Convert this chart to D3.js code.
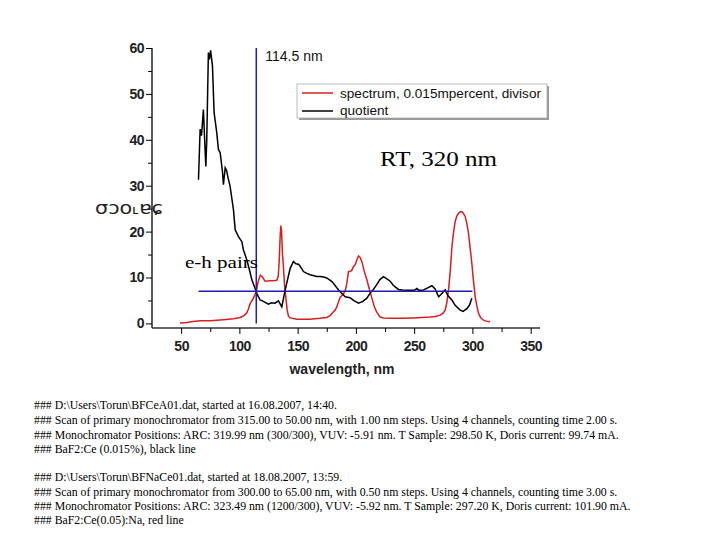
<!DOCTYPE html>
<html><head><meta charset="utf-8">
<script src="https://cdn.jsdelivr.net/npm/d3@7"></script>
<style>body{margin:0;background:#fff}</style>
</head><body>
<script>
// ---- data ----
const quotientWl = [64.9,66.3,67.5,69.1,70.2,71.2,72,73.4,74.3,75.3,76.9,78.3,80.6,82,83.5,85.5,86.3,87.8,89,90.5,92,94.9,96.4,99.2,102.1,103.5,106.4,108.5,110.7,113.5,114.5,115.5,117.8,120.6,124.9,127.5,130.6,133.5,136.4,139.3,143.6,146.4,148.5,150.7,152,155,157.9,160.7,166.4,169.3,172.2,175,179.4,182,185.1,188,190.8,195,198,202.2,206,209.4,212.2,215,218,220.8,223.6,226,229.4,232,236.5,240,245,250,252.3,254,258,262,265.2,268,271,273,276.6,279,282.4,285,289.5,292,295.2,297.5,299.5];
const quotientVal = [31.3,42.3,40.9,46.6,40,34.2,40,59,57.5,59.5,56.1,45.9,41.5,37.9,37.2,33,30.2,33.9,33.3,31.5,29.9,24.8,20.4,18.9,17.8,16,13.8,11.8,9.5,7.6,6.9,6.2,5.1,4.8,4.2,4.5,4.4,4.9,3.6,7.3,12,13.5,13,12.9,12.5,11.3,10.9,10.6,10.2,10.2,10.1,9.9,9.1,8.3,7.3,6.5,5.8,5.6,5,4.4,4.8,5.5,6.6,7.4,8.5,9.6,10.2,9.8,9.2,8.3,7.4,7.3,7.2,7.2,7.6,7.2,7.3,7.8,8.2,7.5,5.8,6.3,7.3,6,5.1,4,2.9,2.6,3.2,4,5.5];
const spectrumWl = [49,55,60,66.3,75,86.3,95,100.6,104,106.4,108,109.2,112.1,114.5,116,117.9,119.5,120.6,122.1,126.4,129.3,132.1,133.3,134.1,135,135.6,136.2,137,137.8,138.7,139.9,141,142.1,143.6,149.3,160,169.3,175,177.9,180,182.2,183.6,185.5,186.5,189.3,191,192.2,193.6,195.1,196.5,198,199.4,201,202.2,203.5,205.1,207,209.4,211.5,213.7,216,218,220.8,223.6,230,240,249.4,256,263.7,268,272.3,275,276.6,278,279.5,281,282.4,283.8,285.2,286.6,288.1,289.5,291,292.4,293.8,295.2,296.6,298,299.5,301,302.4,303.8,305.2,307,309.5,312,315.2];
const spectrumVal = [0.1,0.2,0.4,0.6,0.6,0.8,1,1.3,1.7,2.3,3.3,4.3,5.5,7,9,10.5,10.2,9.8,9.2,9.3,9.3,9.4,10.2,13.2,19,21.3,20,15,12.4,8.5,5.5,3,1.6,1.2,0.9,0.9,1.1,1.3,1.7,2.3,2.9,3.6,5,5.7,6.4,7.3,8.7,11.3,11.3,11.6,12.4,12.8,14,14.7,14.4,13.5,11.5,9.5,7.5,5.5,3.5,2.4,1.4,1.2,1.1,1.1,1.2,1.3,1.4,1.5,1.8,2.3,2.9,4.5,7.3,11.5,16.7,19.8,22.2,23.4,24,24.3,24.3,23.9,23.3,21.8,19.7,16.5,13.1,9,5.8,3.8,2.2,1.3,0.7,0.5,0.35];
const xTicks = [50,100,150,200,250,300,350];
const yTicks = [0,10,20,30,40,50,60];
const markerWl = 114.5;
const levelVal = 7;
const levelRange = [65,300];
const legendLabels = ["spectrum, 0.015mpercent, divisor","quotient"];
const notes1 = [
 "### D:\\Users\\Torun\\BFCeA01.dat, started at 16.08.2007, 14:40.",
 "### Scan of primary monochromator from 315.00 to 50.00 nm, with 1.00 nm steps. Using 4 channels, counting time 2.00 s.",
 "### Monochromator Positions: ARC: 319.99 nm (300/300), VUV: -5.91 nm. T Sample: 298.50 K, Doris current: 99.74 mA.",
 "### BaF2:Ce (0.015%), black line"];
const notes2 = [
 "### D:\\Users\\Torun\\BFNaCe01.dat, started at 18.08.2007, 13:59.",
 "### Scan of primary monochromator from 300.00 to 65.00 nm, with 0.50 nm steps. Using 4 channels, counting time 3.00 s.",
 "### Monochromator Positions: ARC: 323.49 nm (1200/300), VUV: -5.92 nm. T Sample: 297.20 K, Doris current: 101.90 mA.",
 "### BaF2:Ce(0.05):Na, red line"];

// ---- chart ----
const svg = d3.select("body").append("svg").attr("width",720).attr("height",540);
const x = d3.scaleLinear().domain([25,358]).range([152,540]);
const y = d3.scaleLinear().domain([-1,60]).range([328,48]);
const blue = "#1f1fa8", red = "#d81e1e";

// axes
const xAxis = d3.axisBottom(x).tickValues(d3.range(50,351,25)).tickSize(5)
  .tickFormat(d => xTicks.includes(d) ? d : "");
const gx = svg.append("g").attr("transform","translate(0,328)").call(xAxis);
gx.selectAll(".tick line").attr("y2", d => xTicks.includes(d) ? 6 : 4);
gx.select(".domain").attr("d","M152,0H540").attr("stroke","#333").attr("stroke-width",1.6);
gx.selectAll("text").attr("font-family","Arial, Liberation Sans, sans-serif").attr("font-weight","bold")
  .attr("font-size",14).attr("fill","#222").attr("dy","1.05em").attr("letter-spacing","-0.5");

const yAxis = d3.axisLeft(y).tickValues(d3.range(0,61,5)).tickSize(5)
  .tickFormat(d => yTicks.includes(d) ? d : "");
const gy = svg.append("g").attr("transform","translate(152,0)").call(yAxis);
gy.selectAll(".tick line").attr("x2", d => yTicks.includes(d) ? -6 : -4);
gy.select(".domain").attr("d","M0,48V328").attr("stroke","#333").attr("stroke-width",1.6);
gy.selectAll("text").attr("font-family","Arial, Liberation Sans, sans-serif").attr("font-weight","bold")
  .attr("font-size",14).attr("fill","#222").attr("x",-8).attr("letter-spacing","-0.5");

svg.append("text").attr("x",342).attr("y",374).attr("text-anchor","middle")
  .attr("font-family","Arial, Liberation Sans, sans-serif").attr("font-weight","bold").attr("font-size",14)
  .attr("fill","#222").text("wavelength, nm");
svg.append("text").attr("x",95).attr("y",214)
  .attr("font-family","DejaVu Sans, sans-serif").attr("font-size",17)
  .attr("fill","#222").attr("textLength",68).attr("lengthAdjust","spacingAndGlyphs").text("σɔo˪ɐɕ");

// lines
const line = d3.line().x(d=>x(d[0])).y(d=>y(d[1]));
svg.append("path").datum(d3.zip(spectrumWl,spectrumVal)).attr("d",line)
  .attr("fill","none").attr("stroke",red).attr("stroke-width",1.5);
svg.append("path").datum(d3.zip(quotientWl,quotientVal)).attr("d",line)
  .attr("fill","none").attr("stroke","#000").attr("stroke-width",1.5);

svg.append("line").attr("x1",x(markerWl)).attr("x2",x(markerWl)).attr("y1",y(60)).attr("y2",y(0))
  .attr("stroke",blue).attr("stroke-width",1.5);
svg.append("line").attr("x1",x(levelRange[0])).attr("x2",x(levelRange[1])).attr("y1",y(levelVal)).attr("y2",y(levelVal))
  .attr("stroke",blue).attr("stroke-width",1.5);
svg.append("text").attr("x",x(markerWl)+9).attr("y",61)
  .attr("font-family","Arial, Liberation Sans, sans-serif").attr("font-size",14).attr("fill","#111").text(markerWl+" nm");

// legend
const lg = svg.append("g");
lg.append("rect").attr("x",299).attr("y",86).attr("width",250).attr("height",34).attr("fill","#999");
lg.append("rect").attr("x",297).attr("y",84).attr("width",250).attr("height",34).attr("fill","#fff")
  .attr("stroke","#aaa").attr("stroke-width",0.8);
[red,"#000"].forEach((c,i)=>{
  lg.append("line").attr("x1",302).attr("x2",333).attr("y1",93+i*18).attr("y2",93+i*18).attr("stroke",c).attr("stroke-width",1.5);
  lg.append("text").attr("x",340).attr("y",98+i*17).attr("font-family","Arial, Liberation Sans, sans-serif")
    .attr("font-size",13.6).attr("fill","#111").text(legendLabels[i]);
});

// annotations
svg.append("text").attr("x",380).attr("y",166).attr("font-family","Liberation Serif, Times New Roman, serif")
  .attr("font-size",21).attr("fill","#000").attr("textLength",117).attr("lengthAdjust","spacingAndGlyphs").text("RT, 320 nm");
svg.append("text").attr("x",185).attr("y",268).attr("font-family","Liberation Serif, Times New Roman, serif")
  .attr("font-size",17).attr("fill","#000").attr("textLength",73).attr("lengthAdjust","spacingAndGlyphs").text("e-h pairs");

// footnotes
const fn = (arr, ys) => arr.forEach((t,i)=> svg.append("text").attr("x",34).attr("y",ys[i])
  .attr("font-family","Liberation Serif, Times New Roman, serif").attr("font-size",11.8).attr("fill","#000").text(t));
fn(notes1,[409,424,439,453]);
fn(notes2,[481,496,510,524]);
</script>
</body></html>
